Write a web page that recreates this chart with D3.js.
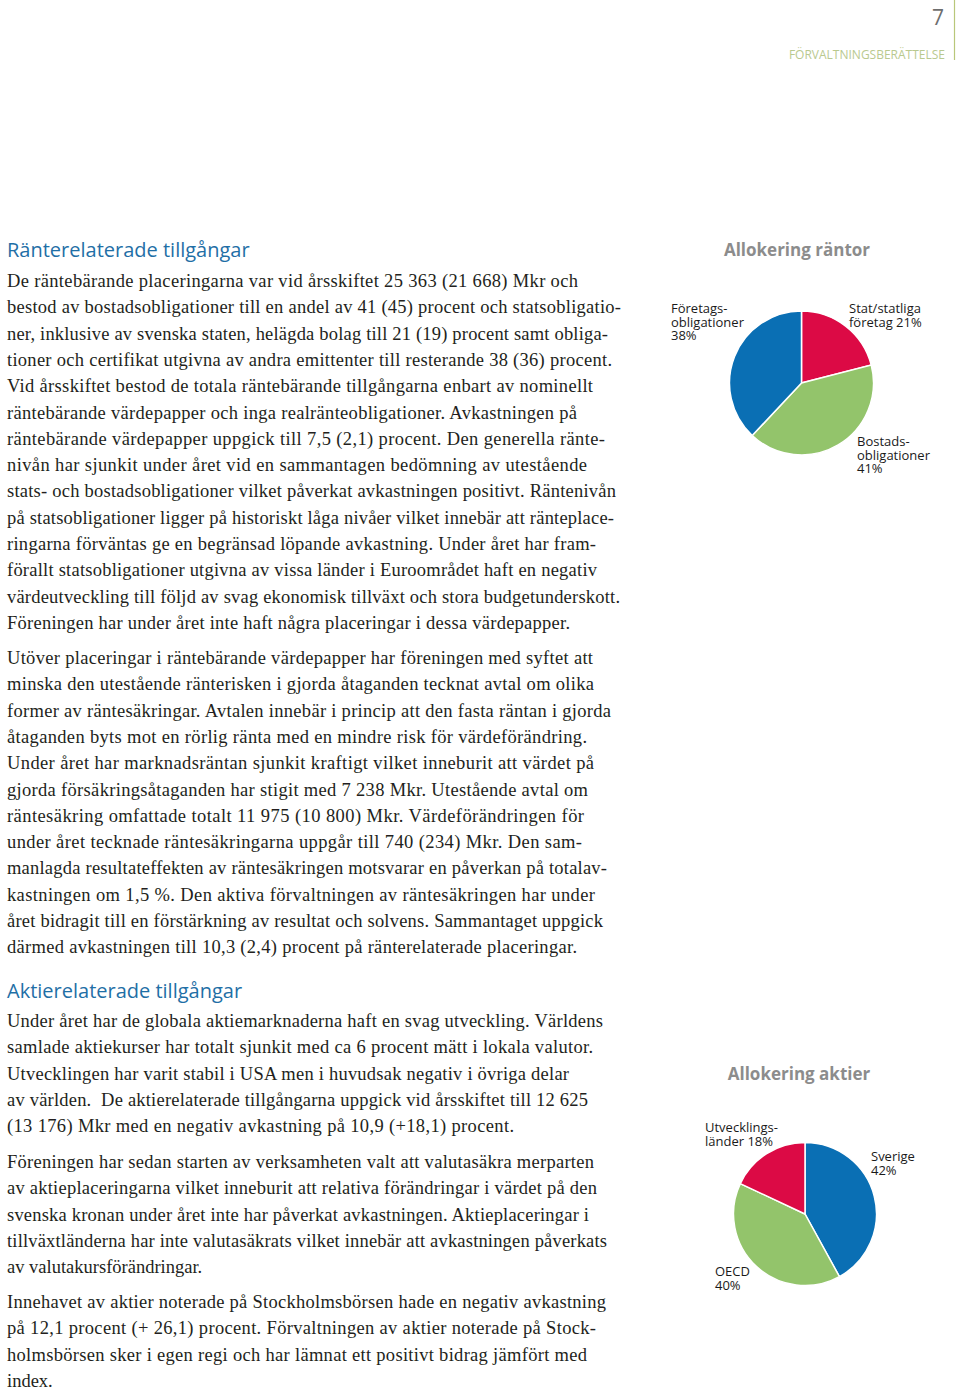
<!DOCTYPE html>
<html>
<head>
<meta charset="utf-8">
<style type="text/css">
	body { margin: 0; background: #fff; }
	svg { display: block; }
	.body-text { font-family: "Liberation Serif", "DejaVu Serif", serif; font-size: 18.5px; fill: #231f20; white-space: pre; }
	.heading { font-family: "Open Sans", "Noto Sans", sans-serif; font-size: 20px; fill: #1f6fa6; }
	.pie-title { font-family: "Open Sans", "Noto Sans", sans-serif; font-size: 17px; font-weight: bold; fill: #8c8c8c; }
	.pie-label { font-family: "Open Sans", "Noto Sans", sans-serif; font-size: 13px; fill: #1a1a1a; }
</style>
<script src="https://d3js.org/d3.v7.min.js"></script>
</head>
<body>
<script type="text/javascript">

	// pie data
	var rantorCategories = ['Stat/statliga företag', 'Bostadsobligationer', 'Företagsobligationer'];
	var rantorValues = [21, 41, 38];
	var rantorLabels = [['Stat/statliga', 'företag 21%'], ['Bostads-', 'obligationer', '41%'], ['Företags-', 'obligationer', '38%']];

	var aktierCategories = ['Sverige', 'OECD', 'Utvecklingsländer'];
	var aktierValues = [42, 40, 18];
	var aktierLabels = [['Sverige', '42%'], ['OECD', '40%'], ['Utvecklings-', 'länder 18%']];

	var sliceColors = ['#dc0a45', '#93c46b', '#0a6fb4'];
	var aktierColors = ['#0a6fb4', '#93c46b', '#dc0a45'];

	// text
	var para1 = [
		'De räntebärande placeringarna var vid årsskiftet 25 363 (21 668) Mkr och',
		'bestod av bostadsobligationer till en andel av 41 (45) procent och statsobligatio-',
		'ner, inklusive av svenska staten, helägda bolag till 21 (19) procent samt obliga-',
		'tioner och certifikat utgivna av andra emittenter till resterande 38 (36) procent.',
		'Vid årsskiftet bestod de totala räntebärande tillgångarna enbart av nominellt',
		'räntebärande värdepapper och inga realränteobligationer. Avkastningen på',
		'räntebärande värdepapper uppgick till 7,5 (2,1) procent. Den generella ränte-',
		'nivån har sjunkit under året vid en sammantagen bedömning av utestående',
		'stats- och bostadsobligationer vilket påverkat avkastningen positivt. Räntenivån',
		'på statsobligationer ligger på historiskt låga nivåer vilket innebär att ränteplace-',
		'ringarna förväntas ge en begränsad löpande avkastning. Under året har fram-',
		'förallt statsobligationer utgivna av vissa länder i Euroområdet haft en negativ',
		'värdeutveckling till följd av svag ekonomisk tillväxt och stora budgetunderskott.',
		'Föreningen har under året inte haft några placeringar i dessa värdepapper.'
	];
	var para2 = [
		'Utöver placeringar i räntebärande värdepapper har föreningen med syftet att',
		'minska den utestående ränterisken i gjorda åtaganden tecknat avtal om olika',
		'former av räntesäkringar. Avtalen innebär i princip att den fasta räntan i gjorda',
		'åtaganden byts mot en rörlig ränta med en mindre risk för värdeförändring.',
		'Under året har marknadsräntan sjunkit kraftigt vilket inneburit att värdet på',
		'gjorda försäkringsåtaganden har stigit med 7 238 Mkr. Utestående avtal om',
		'räntesäkring omfattade totalt 11 975 (10 800) Mkr. Värdeförändringen för',
		'under året tecknade räntesäkringarna uppgår till 740 (234) Mkr. Den sam-',
		'manlagda resultateffekten av räntesäkringen motsvarar en påverkan på totalav-',
		'kastningen om 1,5 %. Den aktiva förvaltningen av räntesäkringen har under',
		'året bidragit till en förstärkning av resultat och solvens. Sammantaget uppgick',
		'därmed avkastningen till 10,3 (2,4) procent på ränterelaterade placeringar.'
	];
	var para3 = [
		'Under året har de globala aktiemarknaderna haft en svag utveckling. Världens',
		'samlade aktiekurser har totalt sjunkit med ca 6 procent mätt i lokala valutor.',
		'Utvecklingen har varit stabil i USA men i huvudsak negativ i övriga delar',
		'av världen.  De aktierelaterade tillgångarna uppgick vid årsskiftet till 12 625',
		'(13 176) Mkr med en negativ avkastning på 10,9 (+18,1) procent.'
	];
	var para4 = [
		'Föreningen har sedan starten av verksamheten valt att valutasäkra merparten',
		'av aktieplaceringarna vilket inneburit att relativa förändringar i värdet på den',
		'svenska kronan under året inte har påverkat avkastningen. Aktieplaceringar i',
		'tillväxtländerna har inte valutasäkrats vilket innebär att avkastningen påverkats',
		'av valutakursförändringar.'
	];
	var para5 = [
		'Innehavet av aktier noterade på Stockholmsbörsen hade en negativ avkastning',
		'på 12,1 procent (+ 26,1) procent. Förvaltningen av aktier noterade på Stock-',
		'holmsbörsen sker i egen regi och har lämnat ett positivt bidrag jämfört med',
		'index.'
	];

	// right edge of each line in the page (null = natural width)
	var para1Ends = [578, 621, 608, 612, 593, 577, 605, 587, 616, 614, 596, 597, 620, 570];
	var para2Ends = [593, 594, 611, 587, 594, 588, 584, 582, 607, 595, 603, 577];
	var para3Ends = [603, 593, 569, 588, 514];
	var para4Ends = [594, 597, 589, 607, null];
	var para5Ends = [606, 596, 587, null];

	var width = 960, height = 1390, left = 7, lineH = 26.3;

	var svg = d3.select('body')
		.append('svg')
			.attr('width', width)
			.attr('height', height);

	// page header
	svg.append('text')
		.text('7')
		.attr('x', 944)
		.attr('y', 25)
		.attr('text-anchor', 'end')
		.style('font-family', '"Open Sans", sans-serif')
		.style('font-size', '21px')
		.style('fill', '#6e6e6e');

	svg.append('line')
		.attr('x1', 954.5).attr('x2', 954.5)
		.attr('y1', 0).attr('y2', 60)
		.style('stroke', '#b9c77a')
		.style('stroke-width', 1.2);

	svg.append('text')
		.text('FÖRVALTNINGSBERÄTTELSE')
		.attr('x', 945)
		.attr('y', 59)
		.attr('text-anchor', 'end')
		.style('font-family', '"Open Sans", sans-serif')
		.style('font-size', '12px')
		.style('fill', '#b9c98f');

	function heading(txt, y) {
		svg.append('text')
			.attr('class', 'heading')
			.attr('x', left)
			.attr('y', y)
			.text(txt);
	}

	function paragraph(lines, ends, y0) {
		svg.append('g')
			.selectAll('text')
			.data(lines)
			.enter()
			.append('text')
				.attr('class', 'body-text')
				.attr('x', left)
				.attr('y', function(d, i) { return y0 + i * lineH; })
				.attr('textLength', function(d, i) { return ends[i] ? ends[i] - left : null; })
				.attr('lengthAdjust', 'spacing')
				.text(function(d) { return d; });
	}

	heading('Ränterelaterade tillgångar', 257);
	paragraph(para1, para1Ends, 287);
	paragraph(para2, para2Ends, 664);
	heading('Aktierelaterade tillgångar', 998);
	paragraph(para3, para3Ends, 1027);
	paragraph(para4, para4Ends, 1168);
	paragraph(para5, para5Ends, 1308);

	// pies
	function draw_pie(cfg) {
		var pie = d3.pie().sort(null).value(function(d) { return d; });
		var arc = d3.arc().innerRadius(0).outerRadius(cfg.r);

		var g = svg.append('g')
			.attr('transform', 'translate(' + cfg.cx + ',' + cfg.cy + ')');

		g.selectAll('path')
			.data(pie(cfg.values))
			.enter()
			.append('path')
				.attr('d', arc)
				.style('fill', function(d, i) { return cfg.colors[i]; })
				.style('stroke', '#fff')
				.style('stroke-width', 1.5);

		svg.append('text')
			.attr('class', 'pie-title')
			.attr('x', cfg.titleX)
			.attr('y', cfg.titleY)
			.attr('text-anchor', 'middle')
			.text(cfg.title);

		cfg.labels.forEach(function(lines, i) {
			var t = svg.append('text')
				.attr('class', 'pie-label')
				.attr('x', cfg.labelPos[i][0])
				.attr('y', cfg.labelPos[i][1]);
			lines.forEach(function(l, j) {
				t.append('tspan')
					.attr('x', cfg.labelPos[i][0])
					.attr('dy', j == 0 ? 0 : 13.5)
					.text(l);
			});
		});
	}

	draw_pie({
		title: 'Allokering räntor', titleX: 797, titleY: 256,
		cx: 801.5, cy: 383, r: 72,
		values: rantorValues, colors: sliceColors, labels: rantorLabels,
		labelPos: [[849, 313], [857, 446], [671, 313]]
	});

	draw_pie({
		title: 'Allokering aktier', titleX: 799, titleY: 1080,
		cx: 805, cy: 1214, r: 71.5,
		values: aktierValues, colors: aktierColors, labels: aktierLabels,
		labelPos: [[871, 1161], [715, 1276], [705, 1132]]
	});

</script>
</body>
</html>
